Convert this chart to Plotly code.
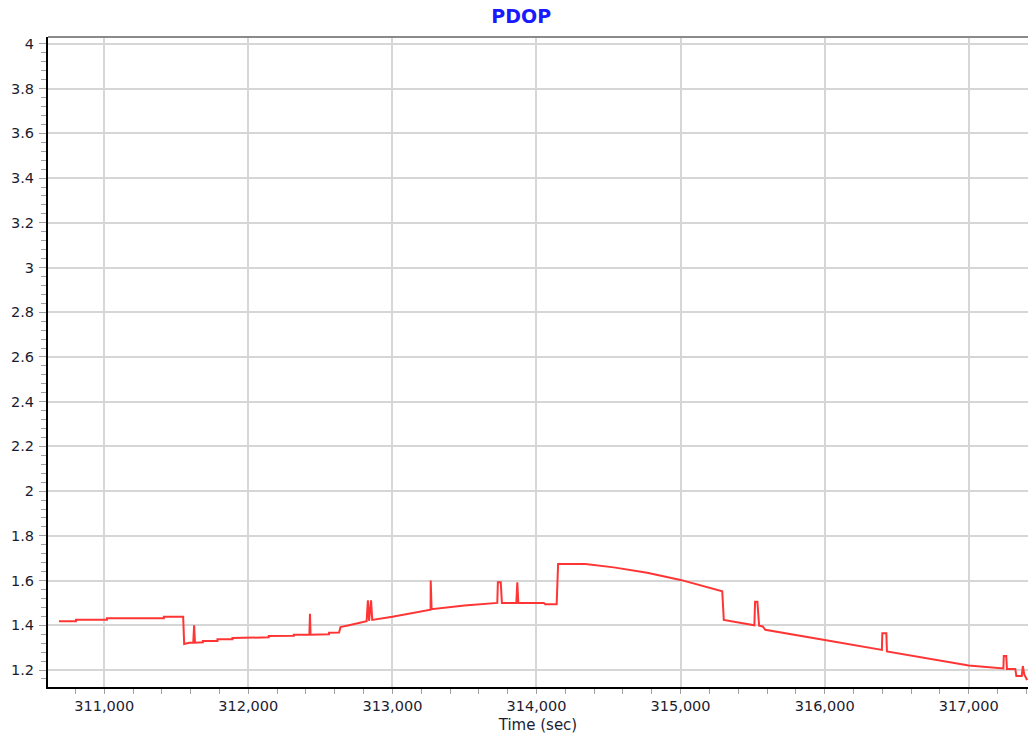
import plotly.graph_objects as go

# Time (sec) and PDOP values
time_sec = [
    310686, 310804, 310804, 311019, 311019, 311414, 311414, 311548, 311555, 311590,
    311618, 311624, 311630, 311685, 311685, 311786, 311786, 311890, 311890, 312142,
    312142, 312316, 312316, 312424, 312428, 312432, 312560, 312560, 312630, 312640,
    312699, 312821, 312830, 312838, 312852, 312860, 313000, 313265, 313266, 313272,
    313500, 313728, 313732, 313752, 313760, 313860, 313867, 313874, 314051, 314060,
    314140, 314150, 314340, 314536, 314768, 315000, 315289, 315300, 315512, 315517,
    315533, 315545, 315570, 315588, 316000, 316397, 316400, 316428, 316432, 317000,
    317240, 317243, 317260, 317265, 317323, 317330, 317368, 317375, 317385, 317405,
]
pdop = [
    1.418, 1.418, 1.425, 1.425, 1.432, 1.432, 1.438, 1.438, 1.316, 1.322,
    1.322, 1.400, 1.322, 1.324, 1.330, 1.330, 1.337, 1.337, 1.343, 1.346,
    1.352, 1.353, 1.358, 1.358, 1.452, 1.358, 1.360, 1.367, 1.368, 1.392,
    1.400, 1.418, 1.512, 1.420, 1.512, 1.424, 1.438, 1.470, 1.600, 1.472,
    1.488, 1.500, 1.592, 1.592, 1.500, 1.500, 1.592, 1.500, 1.500, 1.494,
    1.494, 1.674, 1.674, 1.659, 1.635, 1.603, 1.552, 1.424, 1.400, 1.505,
    1.505, 1.398, 1.395, 1.380, 1.334, 1.290, 1.364, 1.364, 1.283, 1.220,
    1.207, 1.263, 1.263, 1.205, 1.205, 1.173, 1.173, 1.218, 1.180, 1.155,
]

title_text = "PDOP"
x_title = "Time (sec)"

font_fam = "DejaVu Sans, Verdana, sans-serif"
text_col = "#1c1c30"
grid_col = "#d6d6d6"
tick_col = "#a0a0a0"

fig = go.Figure()
fig.add_trace(go.Scatter(
    x=time_sec, y=pdop, mode="lines",
    line=dict(color="#ff3535", width=2),
    showlegend=False, hoverinfo="x+y",
))

fig.update_layout(
    width=1028, height=740,
    margin=dict(l=48, r=0, t=37, b=53, autoexpand=False),
    paper_bgcolor="white", plot_bgcolor="white",
    title=dict(text="<b>" + title_text + "</b>", x=0.507, xanchor="center",
               y=0.9775, yanchor="middle",
               font=dict(family=font_fam, size=19, color="#1a1aff")),
    font=dict(family=font_fam, size=14, color=text_col),
)

fig.update_xaxes(
    range=[310610, 317411], automargin=False,
    dtick=1000, tick0=0, tickformat=",d",
    showgrid=True, gridcolor=grid_col, gridwidth=2,
    showline=True, linecolor="black", linewidth=2,
    ticks="outside", ticklen=5, tickcolor=tick_col, tickwidth=1,
    minor=dict(dtick=200, ticks="outside", ticklen=5, tickcolor=tick_col, showgrid=False),
    tickfont=dict(size=14.5, color=text_col),
    title=dict(text=x_title, font=dict(size=15, color=text_col), standoff=6),
    zeroline=False,
)
fig.update_yaxes(
    range=[1.124, 4.031], automargin=False,
    dtick=0.2, tick0=0,
    showgrid=True, gridcolor=grid_col, gridwidth=2,
    showline=True, linecolor="black", linewidth=2,
    ticks="outside", ticklen=7, tickcolor=tick_col, tickwidth=1,
    minor=dict(dtick=0.04, ticks="outside", ticklen=5, tickcolor=tick_col, showgrid=False),
    tickfont=dict(size=14.5, color=text_col),
    ticklabelstandoff=2,
    zeroline=False,
)

# gray top border of the plot area
fig.add_shape(type="line", xref="paper", yref="paper", x0=0, x1=1, y0=1, y1=1,
              line=dict(color="#8a8a8a", width=2))

# remove the default 8px page margin so the 1028x740 figure fills the window
fig.write_html(
    "out.html",
    config={"displayModeBar": False},
    post_script="document.body.style.margin='0px';document.body.style.overflow='hidden';",
)
